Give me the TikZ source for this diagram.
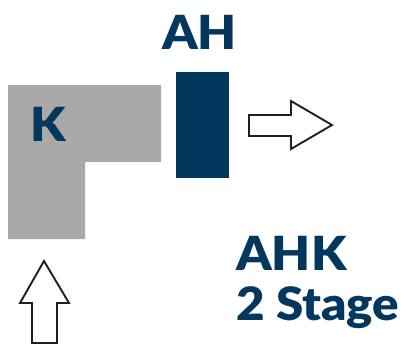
\documentclass[tikz,border=0pt]{standalone}
\usepackage{fontspec}
\setmainfont{Lato}[UprightFont=* Black,FakeStretch=1.07]
\definecolor{navy}{HTML}{03375E}
\definecolor{lgray}{HTML}{AAA9A8}
\definecolor{ink}{HTML}{231F20}
\begin{document}
\begin{tikzpicture}[x=1pt,y=-1pt,
  lbl/.style={inner sep=0pt,anchor=base west,text=navy,font=\fontsize{47}{50}\selectfont},
  hollow/.style={draw=ink,fill=white,line width=1.9pt,line join=miter}]
\useasboundingbox (0,0) rectangle (406,346);
% L-shaped block
\fill[lgray] (8,85) -- (161,85) -- (161,162) -- (85,162) -- (85,239) -- (8,239) -- cycle;
\coordinate (lblock) at (8,85);
% dark plate
\node[fill=navy,minimum width=53pt,minimum height=106pt,inner sep=0pt,anchor=north west] (plate) at (176,72) {};
% labels
\node[lbl] (k) at (30,141) {K};
\node[lbl] (ah) at (162,49) {AH};
\node[lbl] (ahk) at (236,270) {AHK};
\node[lbl,font=\fontsize{46}{50}\selectfont] (stage) at (236,320) {2 Stage};
% outlet arrow
\draw[hollow] (249,115) -- (291,115) -- (291,101) -- (332,125) -- (291,149) -- (291,136) -- (249,136) -- cycle;
% inlet arrow
\draw[hollow] (32,343) -- (32,303) -- (20,303) -- (44,261) -- (69,303) -- (57,303) -- (57,343) -- cycle;
\end{tikzpicture}
\end{document}
